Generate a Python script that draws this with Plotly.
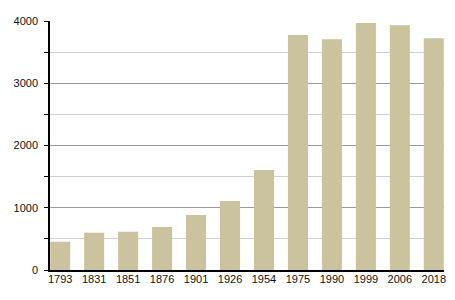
import plotly.graph_objects as go

years = ["1793", "1831", "1851", "1876", "1901", "1926", "1954", "1975", "1990", "1999", "2006", "2018"]
population = [454, 599, 615, 690, 883, 1107, 1605, 3777, 3708, 3969, 3933, 3724]

fig = go.Figure(go.Bar(
    x=years, y=population,
    marker=dict(color="#cbc39d", line=dict(width=0)),
    width=0.59,
))

fig.update_layout(
    width=455, height=300,
    margin=dict(l=50, r=9, t=21, b=30),
    paper_bgcolor="white", plot_bgcolor="white",
    font=dict(family="Liberation Sans, Arial, sans-serif", size=11, color="#111"),
    showlegend=False,
    bargap=0.4,
)
fig.update_xaxes(
    type="category", range=[-0.3, 11.3],
    showline=True, linecolor="black", linewidth=1.5,
    ticks="", showgrid=False, tickfont=dict(size=11),
    ticklabelstandoff=-2,
)
fig.update_yaxes(
    range=[0, 4000], dtick=1000,
    showline=True, linecolor="black", linewidth=1.5,
    ticks="outside", ticklen=4, tickcolor="black",
    showgrid=True, gridcolor="#9a9a9a", gridwidth=1,
    minor=dict(dtick=500, showgrid=True, gridcolor="#d0d0d0", ticks="outside", ticklen=4, tickcolor="black"),
    zeroline=False,
    tickfont=dict(size=11),
    ticklabelstandoff=4,
)

fig.write_html("out.html")
